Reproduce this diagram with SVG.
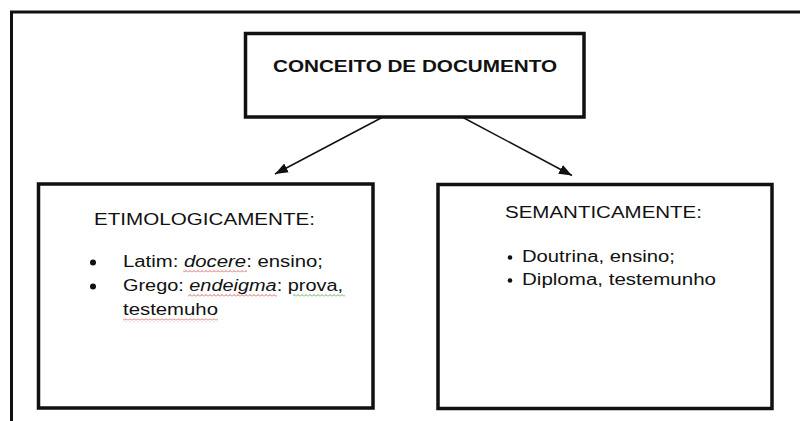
<svg xmlns="http://www.w3.org/2000/svg" width="800" height="421" viewBox="0 0 800 421">
  <defs>
    <style>
      .box { fill: #ffffff; stroke: #111111; stroke-width: 3.5; }
      .frame { fill: none; stroke: #111111; stroke-width: 3; }
      .conn { fill: none; stroke: #111111; stroke-width: 1.5; }
      .t { font-family: "Liberation Sans", Arial, sans-serif; font-size: 16px; fill: #111111; }
      .b { font-weight: bold; }
    </style>
    <marker id="arrow" markerUnits="userSpaceOnUse" markerWidth="14" markerHeight="10" refX="13" refY="5" orient="auto">
      <path d="M0,0 L13,5 L0,10 Z" fill="#111111"/>
    </marker>
    <pattern id="redwave" patternUnits="userSpaceOnUse" width="4" height="3">
      <path d="M0,2.5 L2,0.5 L4,2.5" fill="none" stroke="#d04040" stroke-width="0.8"/>
    </pattern>
    <pattern id="greenwave" patternUnits="userSpaceOnUse" width="4" height="3">
      <path d="M0,2.5 L2,0.5 L4,2.5" fill="none" stroke="#3a9a3a" stroke-width="0.8"/>
    </pattern>
  </defs>
  <rect width="800" height="421" fill="#ffffff"/>
  <path class="frame" d="M11.5,421 L11.5,12 L800,12"/>

  <g id="connectors">
    <line class="conn" x1="382" y1="117.5" x2="275" y2="174" marker-end="url(#arrow)"/>
    <line class="conn" x1="463" y1="117.5" x2="572" y2="175.5" marker-end="url(#arrow)"/>
  </g>

  <g id="node-conceito">
    <rect class="box" x="245.5" y="33.5" width="338.5" height="83.5"/>
    <text class="t b" transform="translate(273,71.5) scale(1.25,1)" textLength="227.2" lengthAdjust="spacingAndGlyphs">CONCEITO DE DOCUMENTO</text>
  </g>

  <g id="node-etimologicamente">
    <rect class="box" x="38.5" y="184" width="334.5" height="224"/>
    <text class="t" transform="translate(94,225) scale(1.25,1)" textLength="176.8" lengthAdjust="spacingAndGlyphs">ETIMOLOGICAMENTE:</text>
    <circle cx="93" cy="262.5" r="3" fill="#111111"/>
    <circle cx="93" cy="286.5" r="3" fill="#111111"/>
    <text class="t" transform="translate(123,267) scale(1.25,1)" textLength="160" lengthAdjust="spacingAndGlyphs">Latim: <tspan font-style="italic">docere</tspan>:  ensino;</text>
    <text class="t" transform="translate(123,291) scale(1.25,1)" textLength="176" lengthAdjust="spacingAndGlyphs">Grego: <tspan font-style="italic">endeigma</tspan>:  prova,</text>
    <text class="t" transform="translate(123,315) scale(1.25,1)" textLength="76" lengthAdjust="spacingAndGlyphs">testemuho</text>
    <rect x="183" y="269.5" width="64" height="3" fill="url(#redwave)"/>
    <rect x="188" y="294" width="89" height="3" fill="url(#redwave)"/>
    <rect x="293" y="294" width="52" height="3" fill="url(#greenwave)"/>
    <rect x="123" y="318.5" width="95" height="3" fill="url(#redwave)"/>
  </g>

  <g id="node-semanticamente">
    <rect class="box" x="438" y="184.5" width="334" height="224"/>
    <text class="t" transform="translate(505,218) scale(1.25,1)" textLength="157.6" lengthAdjust="spacingAndGlyphs">SEMANTICAMENTE:</text>
    <circle cx="510" cy="257.5" r="2.3" fill="#111111"/>
    <circle cx="510" cy="280.5" r="2.3" fill="#111111"/>
    <text class="t" transform="translate(522,262) scale(1.25,1)" textLength="122.4" lengthAdjust="spacingAndGlyphs">Doutrina, ensino;</text>
    <text class="t" transform="translate(522,285) scale(1.25,1)" textLength="155.2" lengthAdjust="spacingAndGlyphs">Diploma, testemunho</text>
  </g>
</svg>
